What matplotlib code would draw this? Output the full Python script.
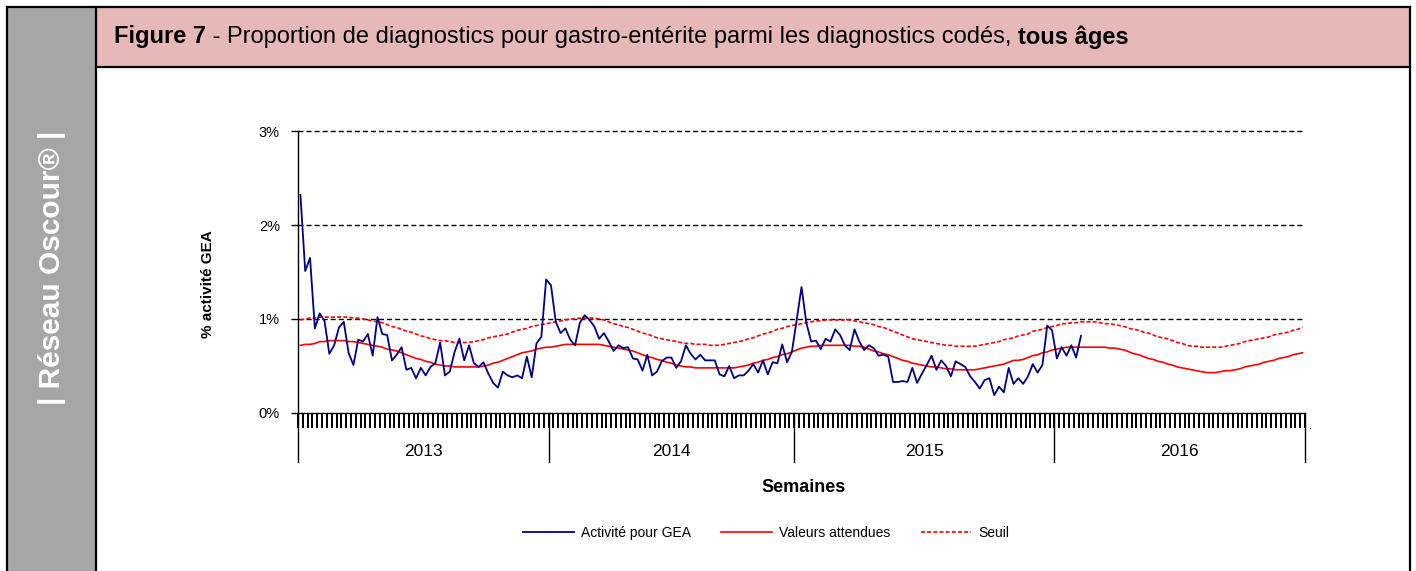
import numpy as np
import matplotlib
matplotlib.use("Agg")
import matplotlib.pyplot as plt
from matplotlib.patches import Rectangle
from matplotlib.lines import Line2D
import matplotlib.transforms as mtransforms

plt.rcParams['font.family'] = ['Liberation Sans', 'DejaVu Sans']

# --- data (% of coded diagnostics, one value per week) ---
years = ['2013', '2014', '2015', '2016']
weeks_per_year = [52, 51, 54, 52]

activite = [
    2.32, 1.51, 1.65, 0.90, 1.06, 0.98, 0.63, 0.72, 0.91, 0.97,
    0.64, 0.51, 0.78, 0.76, 0.84, 0.61, 1.02, 0.84, 0.83, 0.56,
    0.62, 0.70, 0.46, 0.48, 0.37, 0.48, 0.40, 0.49, 0.53, 0.75,
    0.40, 0.44, 0.65, 0.79, 0.56, 0.72, 0.53, 0.49, 0.54, 0.42,
    0.32, 0.27, 0.44, 0.40, 0.38, 0.40, 0.37, 0.60, 0.38, 0.74,
    0.81, 1.42, 1.36, 0.97, 0.85, 0.90, 0.78, 0.72, 0.96, 1.04,
    0.99, 0.92, 0.79, 0.85, 0.76, 0.66, 0.72, 0.69, 0.70, 0.58,
    0.57, 0.45, 0.62, 0.40, 0.44, 0.55, 0.59, 0.59, 0.48, 0.55,
    0.72, 0.63, 0.57, 0.62, 0.56, 0.56, 0.56, 0.41, 0.39, 0.50,
    0.37, 0.40, 0.40, 0.45, 0.52, 0.43, 0.56, 0.41, 0.54, 0.53,
    0.73, 0.54, 0.65, 0.99, 1.34, 0.96, 0.76, 0.77, 0.68, 0.79,
    0.76, 0.89, 0.83, 0.72, 0.67, 0.89, 0.76, 0.67, 0.72, 0.69,
    0.61, 0.62, 0.60, 0.33, 0.33, 0.34, 0.33, 0.48, 0.32, 0.42,
    0.51, 0.61, 0.46, 0.56, 0.50, 0.39, 0.55, 0.52, 0.49, 0.39,
    0.33, 0.26, 0.35, 0.37, 0.19, 0.28, 0.22, 0.48, 0.31, 0.37,
    0.31, 0.39, 0.52, 0.43, 0.51, 0.93, 0.88, 0.58, 0.70, 0.61,
    0.72, 0.59, 0.82,
]

attendues = [
    0.72, 0.73, 0.73, 0.74, 0.76, 0.76, 0.77, 0.77, 0.77, 0.77,
    0.76, 0.76, 0.75, 0.74, 0.73, 0.72, 0.71, 0.70, 0.68, 0.67,
    0.66, 0.64, 0.62, 0.60, 0.58, 0.57, 0.55, 0.54, 0.52, 0.51,
    0.50, 0.50, 0.49, 0.49, 0.49, 0.49, 0.49, 0.49, 0.50, 0.51,
    0.53, 0.54, 0.56, 0.58, 0.60, 0.62, 0.64, 0.65, 0.66, 0.68,
    0.69, 0.70, 0.70, 0.71, 0.72, 0.73, 0.73, 0.73, 0.73, 0.73,
    0.73, 0.73, 0.73, 0.72, 0.71, 0.70, 0.69, 0.68, 0.67, 0.66,
    0.64, 0.62, 0.60, 0.59, 0.57, 0.56, 0.54, 0.53, 0.51, 0.50,
    0.49, 0.49, 0.48, 0.48, 0.48, 0.48, 0.48, 0.48, 0.48, 0.48,
    0.48, 0.49, 0.50, 0.51, 0.53, 0.54, 0.56, 0.57, 0.59, 0.60,
    0.62, 0.63, 0.65, 0.67, 0.69, 0.70, 0.71, 0.71, 0.72, 0.72,
    0.72, 0.72, 0.72, 0.72, 0.72, 0.71, 0.71, 0.70, 0.68, 0.66,
    0.65, 0.63, 0.62, 0.60, 0.58, 0.56, 0.55, 0.53, 0.52, 0.51,
    0.50, 0.49, 0.49, 0.48, 0.47, 0.47, 0.46, 0.46, 0.46, 0.46,
    0.46, 0.47, 0.48, 0.49, 0.50, 0.51, 0.52, 0.54, 0.56, 0.56,
    0.57, 0.59, 0.61, 0.62, 0.64, 0.65, 0.67, 0.68, 0.69, 0.70,
    0.70, 0.70, 0.70, 0.70, 0.70, 0.70, 0.70, 0.70, 0.69, 0.69,
    0.68, 0.67, 0.65, 0.63, 0.62, 0.60, 0.58, 0.57, 0.55, 0.54,
    0.52, 0.51, 0.49, 0.48, 0.47, 0.46, 0.45, 0.44, 0.43, 0.43,
    0.43, 0.44, 0.45, 0.45, 0.46, 0.47, 0.49, 0.50, 0.51, 0.52,
    0.54, 0.55, 0.56, 0.58, 0.59, 0.60, 0.62, 0.63, 0.64,
]

seuil = [
    0.99, 1.00, 1.01, 1.01, 1.02, 1.02, 1.02, 1.02, 1.02, 1.02,
    1.02, 1.01, 1.01, 1.00, 0.99, 0.98, 0.97, 0.96, 0.94, 0.92,
    0.91, 0.89, 0.87, 0.86, 0.84, 0.82, 0.81, 0.79, 0.78, 0.77,
    0.77, 0.76, 0.75, 0.75, 0.75, 0.75, 0.76, 0.77, 0.78, 0.80,
    0.81, 0.82, 0.83, 0.84, 0.86, 0.88, 0.89, 0.90, 0.92, 0.93,
    0.94, 0.95, 0.96, 0.97, 0.98, 0.99, 1.00, 1.00, 1.01, 1.01,
    1.01, 1.01, 1.00, 0.99, 0.97, 0.95, 0.94, 0.92, 0.91, 0.89,
    0.87, 0.85, 0.84, 0.82, 0.80, 0.79, 0.78, 0.77, 0.76, 0.75,
    0.74, 0.74, 0.73, 0.73, 0.73, 0.72, 0.72, 0.72, 0.73, 0.74,
    0.75, 0.76, 0.77, 0.79, 0.80, 0.82, 0.84, 0.85, 0.87, 0.89,
    0.90, 0.92, 0.93, 0.94, 0.95, 0.96, 0.97, 0.98, 0.98, 0.99,
    0.99, 0.99, 0.99, 0.99, 0.99, 0.98, 0.97, 0.96, 0.95, 0.94,
    0.92, 0.91, 0.89, 0.87, 0.85, 0.83, 0.81, 0.79, 0.78, 0.77,
    0.76, 0.75, 0.74, 0.73, 0.72, 0.72, 0.71, 0.71, 0.71, 0.71,
    0.71, 0.72, 0.73, 0.74, 0.75, 0.76, 0.78, 0.79, 0.80, 0.82,
    0.83, 0.84, 0.87, 0.88, 0.89, 0.91, 0.92, 0.93, 0.95, 0.95,
    0.96, 0.96, 0.97, 0.97, 0.97, 0.97, 0.96, 0.95, 0.95, 0.94,
    0.93, 0.92, 0.90, 0.89, 0.88, 0.86, 0.85, 0.83, 0.81, 0.80,
    0.79, 0.77, 0.75, 0.74, 0.72, 0.71, 0.71, 0.70, 0.70, 0.70,
    0.70, 0.70, 0.71, 0.72, 0.73, 0.74, 0.76, 0.77, 0.78, 0.79,
    0.80, 0.81, 0.83, 0.84, 0.85, 0.86, 0.88, 0.89, 0.91,
]

y_ticks = [0, 1, 2, 3]
y_ticklabels = ['0%', '1%', '2%', '3%']

W, H = 1416, 571
fig = plt.figure(figsize=(W / 100, H / 100), dpi=100)

def fx(px):
    return px / W

def fy(py):
    return 1 - py / H

# frame: grey side band, pink title band
grey = '#A6A6A6'
pink = '#E6B9B8'
fig.add_artist(Rectangle((fx(7), 0), fx(96) - fx(7), fy(7), transform=fig.transFigure,
                         facecolor=grey, edgecolor='none', zorder=0))
fig.add_artist(Rectangle((fx(96), fy(67)), fx(1410) - fx(96), fy(7) - fy(67),
                         transform=fig.transFigure, facecolor=pink, edgecolor='none', zorder=0))
for xs, ys in [((7, 1410), (7, 7)), ((7, 7), (7, 575)), ((96, 96), (7, 575)),
               ((1410, 1410), (7, 575)), ((96, 1410), (67, 67))]:
    fig.add_artist(Line2D([fx(xs[0]), fx(xs[1])], [fy(ys[0]), fy(ys[1])],
                          transform=fig.transFigure, color='black', lw=1.6, zorder=1))

fig.text(fx(52), fy(268), '| Réseau Oscour® |', rotation=90, color='white',
         fontweight='bold', fontsize=21.5, ha='center', va='center')

# title with mixed weights
fig.canvas.draw()
rend = fig.canvas.get_renderer()
title_parts = [('Figure 7', 'bold'),
               (' - Proportion de diagnostics pour gastro-entérite parmi les diagnostics codés, ', 'normal'),
               ('tous âges', 'bold')]
xpos = fx(114)
for txt, wt in title_parts:
    t = fig.text(xpos, fy(37), txt, fontweight=wt, fontsize=17, va='center', ha='left')
    xpos += t.get_window_extent(renderer=rend).width / W

# chart
ax = fig.add_axes([fx(298), fy(413), fx(1305) - fx(298), fy(131) - fy(413)])
n_weeks = sum(weeks_per_year)
ax.plot(np.arange(len(activite)), activite, color='#000080', lw=1.3, zorder=3)
ax.plot(np.arange(len(attendues)), attendues, color='#FF0000', lw=1.2, zorder=2)
ax.plot(np.arange(len(seuil)), seuil, color='#FF0000', lw=1.2, ls=(0, (2.4, 1.3)), zorder=2)

ax.set_xlim(-0.5, n_weeks - 0.5)
ax.set_ylim(0, 3)
for yv in y_ticks[1:]:
    ax.axhline(yv, color='black', lw=1.0, ls=(0, (3.6, 2.2)), clip_on=False, zorder=1)

ax.set_yticks(y_ticks)
ax.set_yticklabels(y_ticklabels, fontsize=10.5)
ax.tick_params(axis='y', direction='out', length=5, width=1, pad=8)
ax.set_xticks(np.arange(n_weeks + 1) - 0.5)
ax.set_xticklabels([])
ax.tick_params(axis='x', direction='out', length=11, width=1.4)
for s in ['top', 'right']:
    ax.spines[s].set_visible(False)
for s in ['left', 'bottom']:
    ax.spines[s].set_linewidth(1.0)

# year separators and labels
trans = mtransforms.blended_transform_factory(ax.transData, ax.transAxes)
bounds = np.concatenate([[0], np.cumsum(weeks_per_year)]) - 0.5
for b in bounds:
    ax.plot([b, b], [0, -0.174], color='black', lw=1.0, transform=trans, clip_on=False)
for i, yr in enumerate(years):
    ax.text((bounds[i] + bounds[i + 1]) / 2, -0.138, yr, transform=trans,
            ha='center', va='center', fontsize=12.5)
fig.text(fx(1310), fy(426), '.', fontsize=8, ha='center', va='center')

fig.text(fx(804), fy(487), 'Semaines', fontweight='bold', fontsize=13, ha='center', va='center')
fig.text(fx(208), fy(284), '% activité GEA', fontweight='bold', fontsize=11, rotation=90,
         ha='center', va='center')

handles = [Line2D([], [], color='#000080', lw=1.3),
           Line2D([], [], color='#FF0000', lw=1.2),
           Line2D([], [], color='#FF0000', lw=1.2, ls=(0, (2.4, 1.3)))]
fig.legend(handles, ['Activité pour GEA', 'Valeurs attendues', 'Seuil'], ncol=3,
           loc='center', bbox_to_anchor=(fx(766), fy(533)), frameon=False,
           fontsize=10, handlelength=3.65, handletextpad=0.5, columnspacing=2.2)

fig.savefig('out.png', dpi=100)
